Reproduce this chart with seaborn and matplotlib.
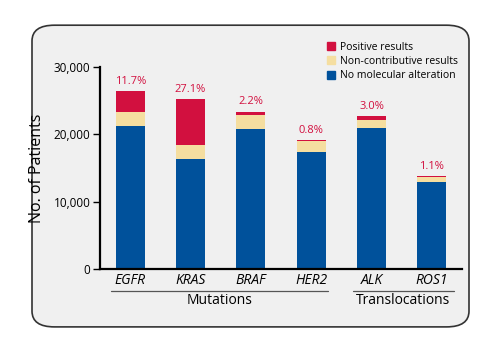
import matplotlib
matplotlib.use("Agg")
import matplotlib.pyplot as plt
import seaborn as sns
import pandas as pd
from matplotlib.patches import FancyBboxPatch, Patch

# dados
genes = ['EGFR', 'KRAS', 'BRAF', 'HER2', 'ALK', 'ROS1']
sem_alteracao = [21200, 16300, 20760, 17340, 21000, 12930]
nao_contributivo = [2080, 2080, 2110, 1600, 1060, 680]
positivo = [3150, 6880, 510, 250, 680, 200]
percentuais = ['11.7%', '27.1%', '2.2%', '0.8%', '3.0%', '1.1%']
grupos = ['Mutations', 'Translocations']

VERMELHO = '#d2103f'
AMARELO = '#f5dea0'
AZUL = '#00519b'

df = pd.DataFrame({'gene': genes, 'no': sem_alteracao,
                   'nc': nao_contributivo, 'pos': positivo})
df['nivel2'] = df['no'] + df['nc']
df['total'] = df['nivel2'] + df['pos']

sns.set_style('white')
plt.rcParams['font.family'] = ['Open Sans', 'DejaVu Sans']
plt.rcParams['text.color'] = 'black'
plt.rcParams['axes.labelcolor'] = 'black'
plt.rcParams['xtick.color'] = 'black'
plt.rcParams['ytick.color'] = 'black'

fig = plt.figure(figsize=(5, 3.5), dpi=100)
fig.patch.set_facecolor('white')

# caixa arredondada de fundo
caixa = FancyBboxPatch((0.064, 0.066), 0.874, 0.862,
                       boxstyle='round,pad=0,rounding_size=0.045',
                       transform=fig.transFigure, facecolor='#f0f0f0',
                       edgecolor='#333333', linewidth=1.2, zorder=0)
fig.patches.append(caixa)

ax = fig.add_axes([0.2, 0.2314, 0.724, 0.5771])
ax.set_facecolor('none')
ax.set_zorder(2)

sns.barplot(data=df, x='gene', y='total', color=VERMELHO, width=0.48,
            saturation=1, linewidth=0, ax=ax)
sns.barplot(data=df, x='gene', y='nivel2', color=AMARELO, width=0.48,
            saturation=1, linewidth=0, ax=ax)
sns.barplot(data=df, x='gene', y='no', color=AZUL, width=0.48,
            saturation=1, linewidth=0, ax=ax)

for i, (t, p) in enumerate(zip(df['total'], percentuais)):
    ax.annotate(p, (i, t), xytext=(0, 3), textcoords='offset points',
                ha='center', va='bottom', color=VERMELHO, fontsize=8)

ax.set_xlim(-0.5, 5.5)
ax.set_ylim(0, 30000)
ax.set_yticks([0, 10000, 20000, 30000])
ax.set_yticklabels(['0', '10,000', '20,000', '30,000'], fontsize=8.5)
ax.set_xticks(range(len(genes)))
ax.set_xticklabels(genes, fontsize=10, style='italic')
ax.tick_params(axis='x', length=0, pad=3)
ax.tick_params(axis='y', length=5, width=1, direction='out', pad=2,
               left=True, color='black')

sns.despine(ax=ax)
for lado in ['left', 'bottom']:
    ax.spines[lado].set_color('black')
    ax.spines[lado].set_linewidth(1.6)

ax.set_xlabel('')
ax.set_ylabel('No. of Patients', fontsize=11.5, labelpad=6)

# linhas de grupo e rotulos
trans = ax.get_xaxis_transform()
ax.plot([-0.32, 3.28], [-0.107, -0.107], transform=trans, color='#555555',
        lw=0.9, clip_on=False)
ax.plot([3.7, 5.37], [-0.107, -0.107], transform=trans, color='#555555',
        lw=0.9, clip_on=False)
ax.text(1.48, -0.118, grupos[0], transform=trans, ha='center', va='top',
        fontsize=10)
ax.text(4.53, -0.118, grupos[1], transform=trans, ha='center', va='top',
        fontsize=10)

handles = [Patch(color=VERMELHO, label='Positive results'),
           Patch(color=AMARELO, label='Non-contributive results'),
           Patch(color=AZUL, label='No molecular alteration')]
ax.legend(handles=handles, loc='upper left', bbox_to_anchor=(0.615, 1.145),
          frameon=False, fontsize=7.5, handlelength=0.8, handleheight=0.8,
          handletextpad=0.5, labelspacing=0.3, borderaxespad=0)

fig.savefig('out.png', dpi=100)
